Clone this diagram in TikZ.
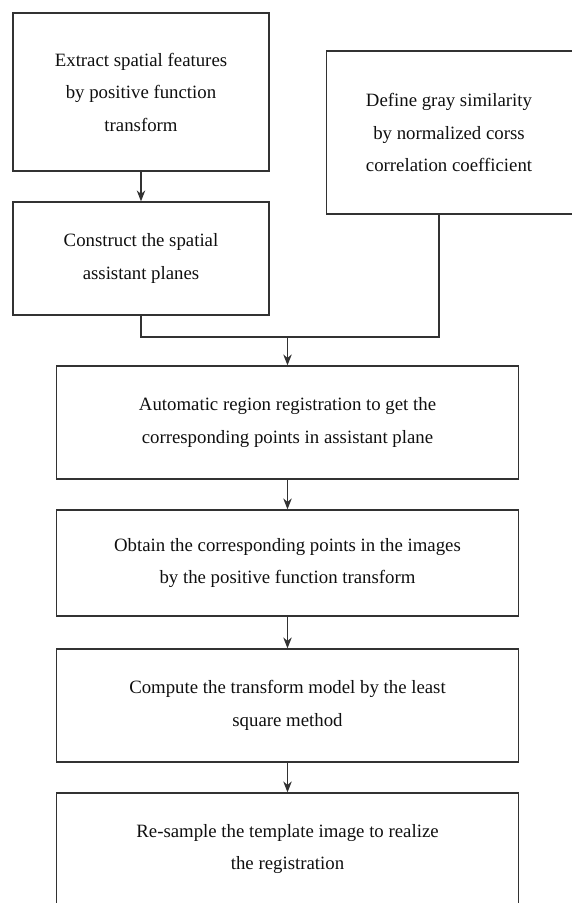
\documentclass[tikz,border=0pt]{standalone}
\usepackage{fontspec}
\setmainfont{Liberation Serif}
\usetikzlibrary{arrows.meta,calc}
\definecolor{flowline}{RGB}{50,50,50}
\definecolor{flowtext}{RGB}{15,15,15}

\begin{document}
\begin{tikzpicture}[
  >={Stealth[length=2.2mm,width=1.7mm]},
  steptext/.style={font=\fontsize{10.7}{18.5}\selectfont,text=flowtext,align=center},
  stepbox/.style 2 args={draw=flowline,line width=0.7pt,minimum width=#1,minimum height=#2,
                         inner sep=0pt,steptext},
  link/.style={->,draw=flowline,line width=0.7pt},
  wire/.style={draw=flowline,line width=0.7pt},
]
\useasboundingbox (0,0) rectangle (11.42,-18.06);

%% ── Feature branch (left) ────────────────────────────────────────────────────
\node[stepbox={5.12cm}{3.16cm}] (extract) at (2.82,-1.84)
  {Extract spatial features\\by positive function\\transform};
\node[stepbox={5.12cm}{2.26cm}] (planes) at (2.82,-5.17)
  {Construct the spatial\\assistant planes};

%% ── Similarity branch (right, runs off the page edge) ────────────────────────
\node[stepbox={5.6cm}{3.26cm}] (gray) at (9.33,-2.65) {};
\node[steptext] (graytext) at (8.98,-2.65)
  {Define gray similarity\\by normalized corss\\correlation coefficient};

%% ── Main chain ───────────────────────────────────────────────────────────────
\node[stepbox={9.24cm}{2.26cm}] (region) at (5.75,-8.45)
  {Automatic region registration to get the\\corresponding points in assistant plane};
\node[stepbox={9.24cm}{2.12cm}] (points) at (5.75,-11.26)
  {Obtain the corresponding points in the images\\by the positive function transform};
\node[stepbox={9.24cm}{2.26cm}] (model) at (5.75,-14.11)
  {Compute the transform model by the least\\square method};
\node[stepbox={9.24cm}{2.24cm}] (resample) at (5.75,-16.98)
  {Re-sample the template image to realize\\the registration};

%% ── Connectors ───────────────────────────────────────────────────────────────
\coordinate (join) at ([yshift=0.57cm]region.north);
\coordinate (grayfoot) at (gray.south -| 8.78,0);

\draw[link] (extract) -- (planes);
\draw[wire] (planes.south) |- (join) -| (grayfoot);
\draw[link] (join) -- (region.north);
\draw[link] (region) -- (points);
\draw[link] (points) -- (model);
\draw[link] (model) -- (resample);

\end{tikzpicture}
\end{document}
